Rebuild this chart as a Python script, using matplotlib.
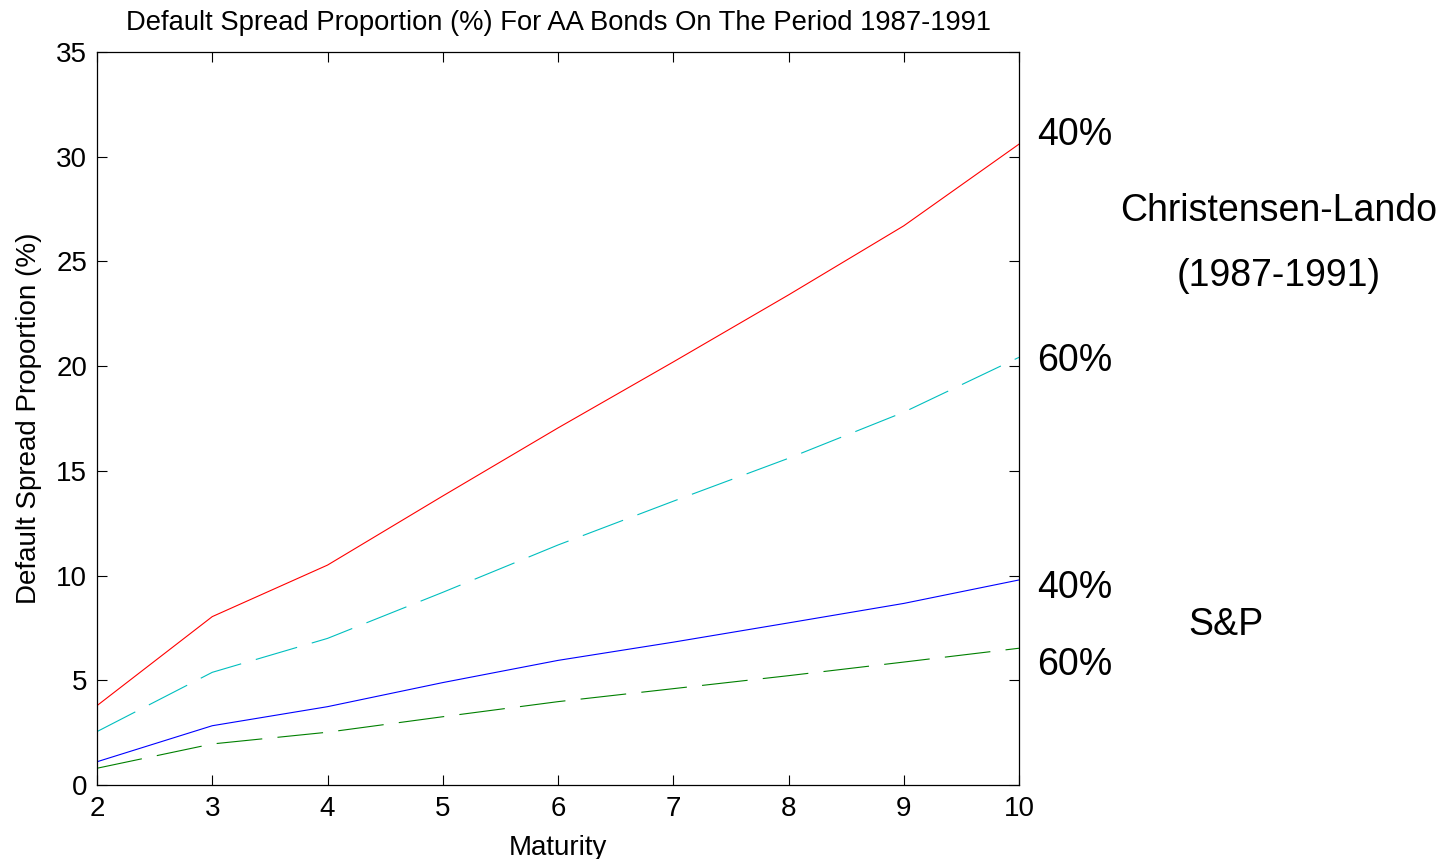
import matplotlib
matplotlib.use("Agg")
import matplotlib.pyplot as plt

plt.rcParams['font.family'] = ['Liberation Sans', 'DejaVu Sans']
plt.rcParams['lines.scale_dashes'] = False

maturity = [2, 3, 4, 5, 6, 7, 8, 9, 10]
cl_40 = [3.79, 8.04, 10.5, 13.8, 17.05, 20.2, 23.4, 26.7, 30.6]
cl_60 = [2.55, 5.38, 7.0, 9.2, 11.46, 13.55, 15.6, 17.8, 20.42]
sp_40 = [1.11, 2.83, 3.74, 4.89, 5.95, 6.82, 7.74, 8.67, 9.79]
sp_60 = [0.80, 1.96, 2.52, 3.26, 3.98, 4.6, 5.22, 5.87, 6.53]

W, H = 1452, 859
fig = plt.figure(figsize=(W / 100, H / 100), dpi=100)
ax = fig.add_axes([97 / W, 1 - 785 / H, (1019 - 97) / W, (785 - 52) / H])

lw = 0.8
ax.plot(maturity, cl_40, color='#ff0000', lw=lw)
ax.plot(maturity, cl_60, color='#00bfbf', lw=lw, dashes=(31, 11))
ax.plot(maturity, sp_40, color='#0000ff', lw=lw)
ax.plot(maturity, sp_60, color='#008000', lw=lw, dashes=(33, 11))

ax.set_xlim(2, 10)
ax.set_ylim(0, 35)
ax.set_xticks(range(2, 11))
ax.set_yticks(range(0, 36, 5))
ax.tick_params(direction='in', top=True, right=True, length=7, width=0.8,
               labelsize=20)
ax.tick_params(axis='x', pad=8)
ax.tick_params(axis='y', pad=7)
for s in ax.spines.values():
    s.set_linewidth(0.9)

ax.set_title('Default Spread Proportion (%) For AA Bonds On The Period 1987-1991',
             fontsize=19.7, pad=16)
ax.set_xlabel('Maturity', fontsize=20, labelpad=9)
ax.set_ylabel('Default Spread Proportion (%)', fontsize=20, labelpad=10)

def ftext(x, y, s, **kw):
    fig.text(x / W, 1 - y / H, s, fontsize=27, va='center', **kw)

ftext(1037, 135, '40%')
ftext(1279, 211, 'Christensen-Lando', ha='center')
ftext(1279, 276, '(1987-1991)', ha='center')
ftext(1037, 361, '60%')
ftext(1037, 588, '40%')
ftext(1226, 625, 'S&P', ha='center')
ftext(1037, 665, '60%')

fig.savefig('out.png', dpi=100, facecolor='white')
